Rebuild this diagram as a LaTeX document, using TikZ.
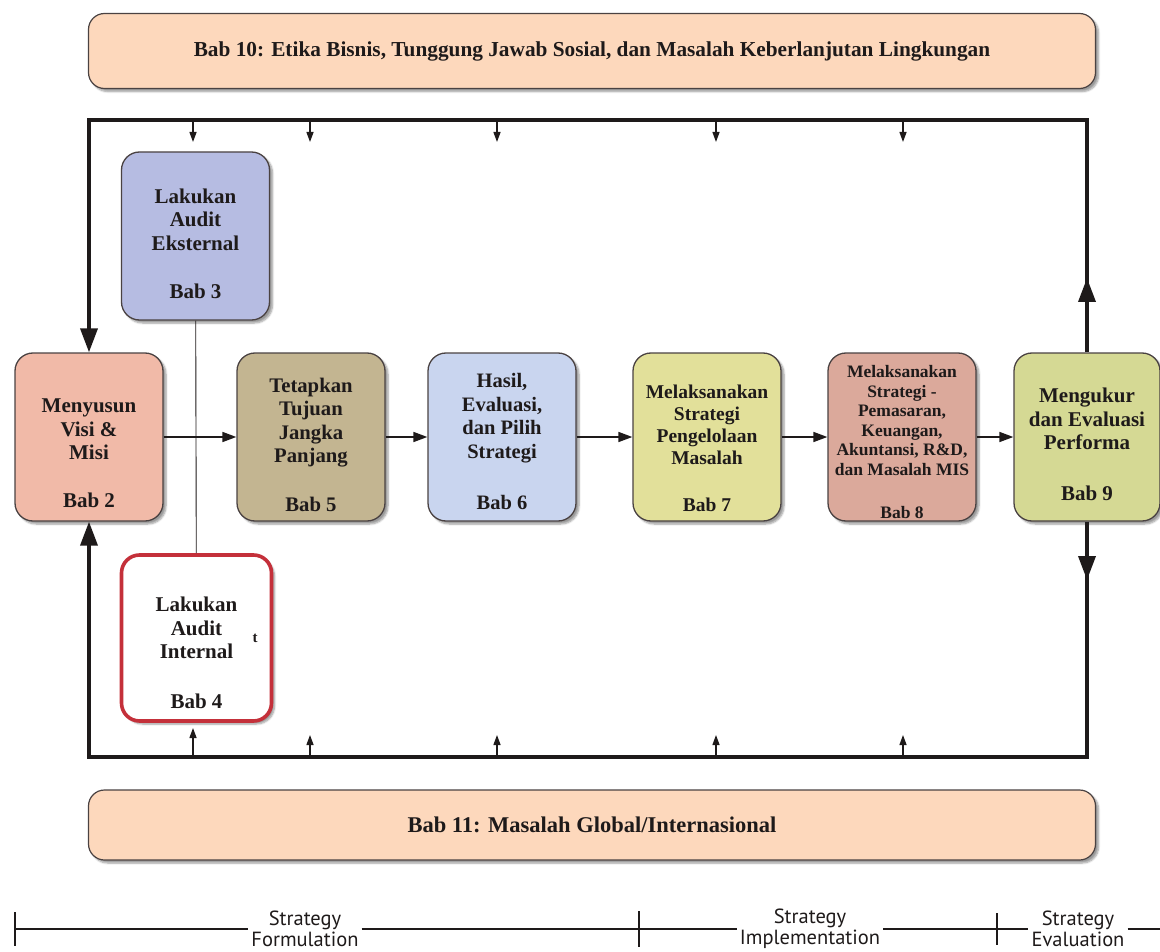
\documentclass[tikz,border=0pt]{standalone}
\usepackage{fontspec}
\setmainfont{Liberation Serif}
\newfontfamily\tlfont{PT Sans}
\usetikzlibrary{arrows.meta,shadows.blur}

\definecolor{ink}{HTML}{1E1A1A}
\definecolor{boxline}{HTML}{4A4242}
\definecolor{bannerfill}{HTML}{FDD8BC}
\definecolor{cEks}{HTML}{B6BCE2}
\definecolor{cVisi}{HTML}{F1BAA8}
\definecolor{cTuj}{HTML}{C3B591}
\definecolor{cHasil}{HTML}{C9D5EF}
\definecolor{cLak}{HTML}{E2E09A}
\definecolor{cPem}{HTML}{DBA99B}
\definecolor{cUkur}{HTML}{D5D994}
\definecolor{cRed}{HTML}{C4303A}

% a strut on the first line pushes a text block down inside its box
\newcommand{\lowstart}[1]{\rule{0pt}{#1}}

\begin{document}
\begin{tikzpicture}[x=1pt,y=-1pt,
  softshadow/.style={blur shadow={shadow xshift=3pt,shadow yshift=-3pt,shadow blur steps=6,shadow opacity=40}},
  box/.style={draw=boxline,line width=1.3pt,rounded corners=18pt,
    minimum width=148pt,minimum height=168pt,inner sep=0pt,align=center,
    text=ink,font=\bfseries\fontsize{21}{23.5}\selectfont,softshadow},
  bannerbox/.style={draw=boxline,line width=1.2pt,fill=bannerfill,rounded corners=16pt,
    minimum width=1007pt,align=center,text=ink,softshadow},
  loopline/.style={line width=3.6pt,line join=miter,draw=ink},
  bigtip/.style={-{Triangle[width=17pt,length=24pt]}},
  flow/.style={draw=ink,line width=1.7pt,-{Triangle[width=10pt,length=14pt]}},
  feed/.style={draw=ink,line width=1.3pt,-{Triangle[width=7pt,length=10pt]}},
  thinline/.style={draw=ink,line width=0.9pt},
  phase/.style={font=\tlfont\fontsize{20.5}{21}\selectfont,align=center,text=ink,inner xsep=3pt,inner ysep=0pt},
  tick/.style={draw=ink,line width=1.1pt},
  tline/.style={draw=ink,line width=1.6pt}]

\useasboundingbox (0,0) rectangle (1160,952);

% chapter banners above and below the process loop
\node[bannerbox,minimum height=75pt,font=\bfseries\fontsize{21.3}{24}\selectfont] (b10) at (592,51)
  {Bab 10: Etika Bisnis, Tunggung Jawab Sosial, dan Masalah Keberlanjutan Lingkungan};
\node[bannerbox,minimum height=70pt,font=\bfseries\fontsize{22.5}{24}\selectfont] (b11) at (592,825)
  {Bab 11: Masalah Global/Internasional};

% process boxes
\node[box,fill=cEks] (eks) at (195.5,236) {\lowstart{30pt}Lakukan\\Audit\\Eksternal\\[25pt]Bab 3};
\node[box,fill=cVisi] (visi) at (89,437) {\lowstart{46pt}Menyusun\\Visi \&\\Misi\\[24pt]Bab 2};
\node[box,fill=cTuj,font=\bfseries\fontsize{20.7}{23.5}\selectfont] (tuj) at (311,437)
  {\lowstart{30pt}Tetapkan\\Tujuan\\Jangka\\Panjang\\[25pt]Bab 5};
\node[box,fill=cHasil,font=\bfseries\fontsize{20.5}{23.5}\selectfont] (hasil) at (502,437)
  {\lowstart{24pt}Hasil,\\Evaluasi,\\dan Pilih\\Strategi\\[28pt]Bab 6};
\node[box,fill=cLak,font=\bfseries\fontsize{19.5}{22}\selectfont] (lak) at (707,437)
  {\lowstart{37pt}Melaksanakan\\Strategi\\Pengelolaan\\Masalah\\[25pt]Bab 7};
\node[box,fill=cPem,font=\bfseries\fontsize{17.5}{19.5}\selectfont] (pem) at (902,437)
  {\lowstart{23pt}Melaksanakan\\Strategi -\\Pemasaran,\\Keuangan,\\Akuntansi, R\&D,\\dan Masalah MIS\\[24pt]Bab 8};
\node[box,fill=cUkur,minimum width=146pt] (ukur) at (1087,437)
  {\lowstart{29pt}Mengukur\\dan Evaluasi\\Performa\\[27pt]Bab 9};
\node[box,fill=white,draw=cRed,line width=3.6pt,minimum width=150pt,minimum height=166pt] (int) at (196.5,638)
  {\lowstart{44pt}Lakukan\\Audit\\Internal\\[26pt]Bab 4};
\node[font=\bfseries\fontsize{15}{16}\selectfont,text=ink,inner sep=0pt] (mark) at (255,638) {t};

% corners of the feedback loop
\coordinate (tl) at (visi.north |- 0,120);
\coordinate (tr) at (ukur.north |- 0,120);
\coordinate (bl) at (visi.north |- 0,757);
\coordinate (br) at (ukur.north |- 0,757);
\coordinate (upTip) at (ukur.north |- 0,278);
\coordinate (downTip) at (ukur.north |- 0,580);

\draw[loopline,{Triangle[width=17pt,length=24pt]}-] (visi.north) -- (tl) -- (tr) -- (ukur.north);
\draw[loopline,{Triangle[width=17pt,length=24pt]}-] (visi.south) -- (bl) -- (br) -- (ukur.south);
\draw[loopline,bigtip] (ukur.north) -- (upTip);
\draw[loopline,bigtip] (ukur.south) -- (downTip);

% main flow
\draw[flow] (visi) -- (tuj);
\draw[flow] (tuj) -- (hasil);
\draw[flow] (hasil) -- (lak);
\draw[flow] (lak) -- (pem);
\draw[flow] (pem) -- (ukur);
\draw[thinline] (eks) -- (int);

% small feeds from the top and bottom rails
\coordinate (t1) at (193,120); \coordinate (t1e) at (193,142);
\coordinate (t2) at (310,120); \coordinate (t2e) at (310,142);
\coordinate (t3) at (497,120); \coordinate (t3e) at (497,142);
\coordinate (t4) at (716,120); \coordinate (t4e) at (716,142);
\coordinate (t5) at (903,120); \coordinate (t5e) at (903,142);
\draw[feed] (t1) -- (t1e);
\draw[feed] (t2) -- (t2e);
\draw[feed] (t3) -- (t3e);
\draw[feed] (t4) -- (t4e);
\draw[feed] (t5) -- (t5e);
\coordinate (u1) at (193,757); \coordinate (u1e) at (193,728);
\coordinate (u2) at (310,757); \coordinate (u2e) at (310,735);
\coordinate (u3) at (497,757); \coordinate (u3e) at (497,735);
\coordinate (u4) at (716,757); \coordinate (u4e) at (716,735);
\coordinate (u5) at (903,757); \coordinate (u5e) at (903,735);
\draw[feed] (u1) -- (u1e);
\draw[feed] (u2) -- (u2e);
\draw[feed] (u3) -- (u3e);
\draw[feed] (u4) -- (u4e);
\draw[feed] (u5) -- (u5e);

% phase timeline
\node[phase] (form) at (305,929) {Strategy\\Formulation};
\node[phase] (impl) at (810,929) {Strategy\\Implementation};
\node[phase] (eval) at (1078,929) {Strategy\\Evaluation};
\coordinate (p0) at (15,929);
\coordinate (p1) at (639,929);
\coordinate (p2) at (997,929);
\coordinate (p3) at (1160,929);
\draw[tick] (15,912) -- (15,946);
\draw[tick] (639,911) -- (639,947);
\draw[tick] (997,913) -- (997,945);
\draw[tline] (p0) -- (form.west |- p0);
\draw[tline] (form.east |- p0) -- (p1);
\draw[tline] (p1) -- (impl.west |- p1);
\draw[tline] (impl.east |- p1) -- (p2);
\draw[tline] (p2) -- (eval.west |- p2);
\draw[tline] (eval.east |- p2) -- (p3);
\end{tikzpicture}
\end{document}
